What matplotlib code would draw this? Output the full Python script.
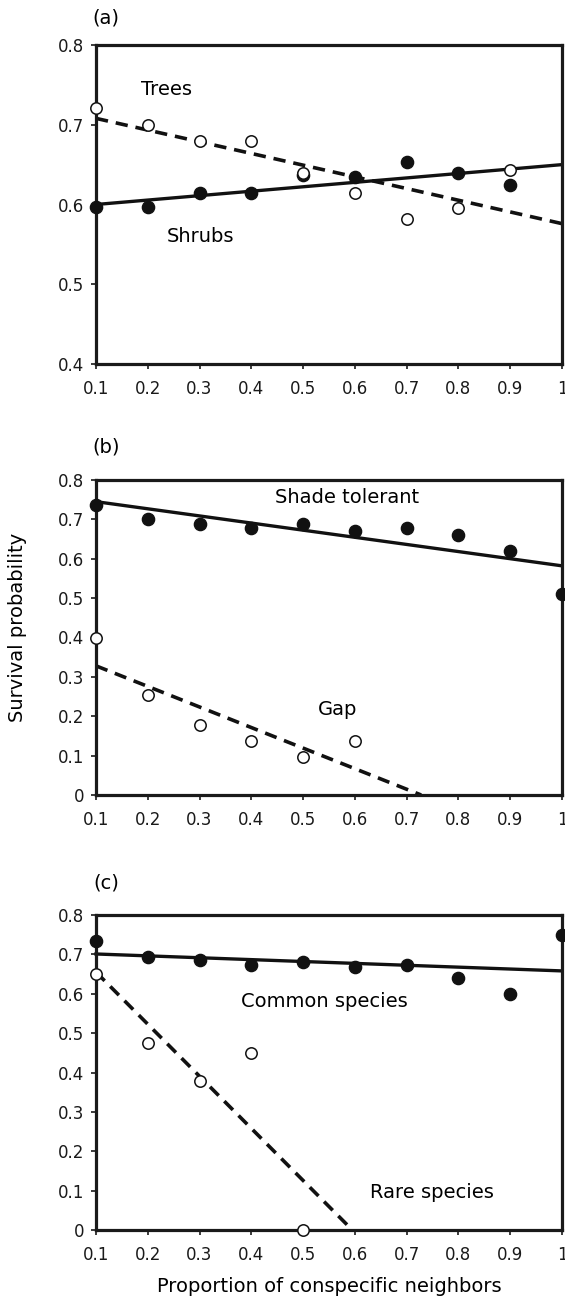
import matplotlib
matplotlib.use("Agg")
import matplotlib.pyplot as plt
import numpy as np

plt.rcParams['font.family'] = ['DejaVu Sans']

# proportion of conspecific neighbors
x_props = [0.1, 0.2, 0.3, 0.4, 0.5, 0.6, 0.7, 0.8, 0.9, 1.0]
x_ticklabels = ['0.1', '0.2', '0.3', '0.4', '0.5', '0.6', '0.7', '0.8', '0.9', '1']

# (a) trees vs shrubs
trees_x = [0.1, 0.2, 0.3, 0.4, 0.5, 0.6, 0.7, 0.8, 0.9]
trees_y = [0.721, 0.700, 0.679, 0.679, 0.640, 0.614, 0.582, 0.595, 0.643]
shrubs_x = [0.1, 0.2, 0.3, 0.4, 0.5, 0.6, 0.7, 0.8, 0.9]
shrubs_y = [0.597, 0.597, 0.615, 0.614, 0.637, 0.634, 0.653, 0.639, 0.625]
trees_fit_x = [0.1, 1.0]
trees_fit_y = [0.708, 0.576]
shrubs_fit_x = [0.1, 1.0]
shrubs_fit_y = [0.600, 0.650]

# (b) shade tolerant vs gap
shade_x = [0.1, 0.2, 0.3, 0.4, 0.5, 0.6, 0.7, 0.8, 0.9, 1.0]
shade_y = [0.736, 0.701, 0.688, 0.677, 0.687, 0.670, 0.677, 0.660, 0.620, 0.510]
gap_x = [0.1, 0.2, 0.3, 0.4, 0.5, 0.6]
gap_y = [0.398, 0.254, 0.179, 0.138, 0.096, 0.138]
shade_fit_x = [0.1, 1.0]
shade_fit_y = [0.745, 0.582]
gap_fit_x = [0.1, 0.728]
gap_fit_y = [0.328, 0.0]

# (c) common vs rare species
common_x = [0.1, 0.2, 0.3, 0.4, 0.5, 0.6, 0.7, 0.8, 0.9, 1.0]
common_y = [0.735, 0.694, 0.686, 0.674, 0.681, 0.669, 0.672, 0.639, 0.600, 0.748]
rare_x = [0.1, 0.2, 0.3, 0.4, 0.5]
rare_y = [0.650, 0.476, 0.379, 0.450, 0.0]
common_fit_x = [0.1, 1.0]
common_fit_y = [0.701, 0.658]
rare_fit_x = [0.1, 0.595]
rare_fit_y = [0.655, 0.0]

W, H = 565, 1303
fig = plt.figure(figsize=(W / 100, H / 100), dpi=100)

def px_axes(top, bottom, left=96, right=562):
    return fig.add_axes([left / W, 1 - bottom / H, (right - left) / W, (bottom - top) / H])

def style_axes(ax, ylim, yticks, yticklabels):
    ax.set_xlim(0.1, 1.0)
    ax.set_ylim(*ylim)
    ax.set_xticks(x_props)
    ax.set_xticklabels(x_ticklabels)
    ax.set_yticks(yticks)
    ax.set_yticklabels(yticklabels)
    for s in ax.spines.values():
        s.set_linewidth(2.3)
        s.set_color('#1a1a1a')
    ax.tick_params(direction='out', length=3.5, width=1.2, labelsize=12, colors='#1a1a1a')
    ax.tick_params(axis='x', pad=8)
    ax.tick_params(axis='y', pad=5)

def draw(ax, fx, fy, style, px, py, filled):
    ax.plot(fx, fy, color='#111111', lw=2.4 if style == '-' else 2.6,
            linestyle=style if style == '-' else (0, (3.4, 2.2)), zorder=2, clip_on=False)
    if filled:
        ax.plot(px, py, 'o', ms=8.8, mfc='#111111', mec='#111111', ls='None', zorder=3, clip_on=False)
    else:
        ax.plot(px, py, 'o', ms=8.2, mfc='white', mec='#111111', mew=1.1, ls='None', zorder=4, clip_on=False)

tfs = 14

# (a)
ax1 = px_axes(45, 364)
style_axes(ax1, (0.4, 0.8), [0.4, 0.5, 0.6, 0.7, 0.8], ['0.4', '0.5', '0.6', '0.7', '0.8'])
draw(ax1, shrubs_fit_x, shrubs_fit_y, '-', shrubs_x, shrubs_y, True)
draw(ax1, trees_fit_x, trees_fit_y, '--', trees_x, trees_y, False)
ax1.text(0.236, 0.744, 'Trees', ha='center', va='center', fontsize=tfs)
ax1.text(0.302, 0.560, 'Shrubs', ha='center', va='center', fontsize=tfs)

yt = [0, 0.1, 0.2, 0.3, 0.4, 0.5, 0.6, 0.7, 0.8]
ytl = ['0', '0.1', '0.2', '0.3', '0.4', '0.5', '0.6', '0.7', '0.8']

# (b)
ax2 = px_axes(480, 795)
style_axes(ax2, (0, 0.8), yt, ytl)
draw(ax2, shade_fit_x, shade_fit_y, '-', shade_x, shade_y, True)
draw(ax2, gap_fit_x, gap_fit_y, '--', gap_x, gap_y, False)
ax2.text(0.584, 0.755, 'Shade tolerant', ha='center', va='center', fontsize=tfs)
ax2.text(0.567, 0.216, 'Gap', ha='center', va='center', fontsize=tfs)

# (c)
ax3 = px_axes(915, 1230)
style_axes(ax3, (0, 0.8), yt, ytl)
draw(ax3, common_fit_x, common_fit_y, '-', common_x, common_y, True)
draw(ax3, rare_fit_x, rare_fit_y, '--', rare_x, rare_y, False)
ax3.text(0.542, 0.580, 'Common species', ha='center', va='center', fontsize=tfs)
ax3.text(0.748, 0.095, 'Rare species', ha='center', va='center', fontsize=tfs)

for lab, yy in [('(a)', 18), ('(b)', 447), ('(c)', 883)]:
    fig.text(106 / W, 1 - yy / H, lab, ha='center', va='center', fontsize=14)

fig.text(18 / W, 1 - 627 / H, 'Survival probability', rotation=90, ha='center', va='center', fontsize=14)
fig.text(329 / W, 1 - 1287 / H, 'Proportion of conspecific neighbors', ha='center', va='center', fontsize=14)

fig.savefig('out.png', dpi=100)
